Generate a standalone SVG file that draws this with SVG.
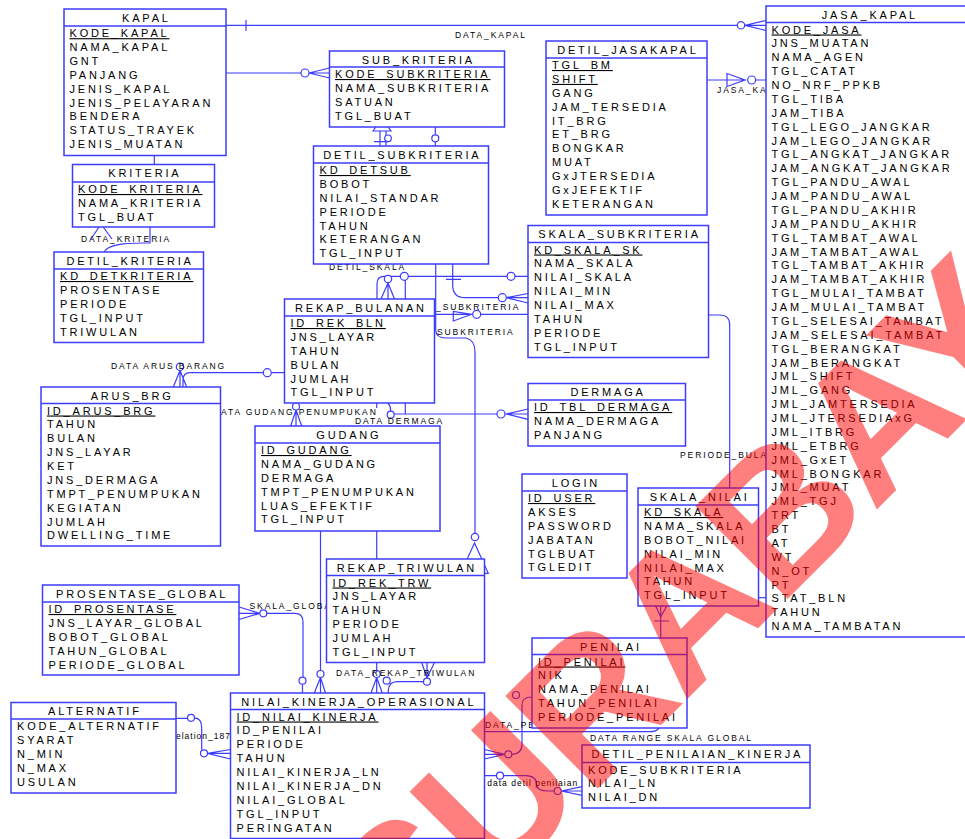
<svg xmlns="http://www.w3.org/2000/svg" width="965" height="839" viewBox="0 0 965 839">
<style>
.box{fill:#fff;stroke:#3c3cff;stroke-width:1.5}
.hl{stroke:#3c3cff;stroke-width:1.5}
.t{font-family:"Liberation Sans",Arial,sans-serif;font-size:11px;letter-spacing:2.8px;fill:#000}
.ttl{text-anchor:middle}
.pk{text-decoration:underline}
.cn{fill:none;stroke:#3c3cff;stroke-width:1.2}
.o{fill:#fff;stroke:#3c3cff;stroke-width:1.2}
.lb{font-family:"Liberation Sans",Arial,sans-serif;font-size:8.5px;letter-spacing:1.9px;fill:#000}
.lw{font-family:"Liberation Sans",Arial,sans-serif;font-size:8.5px;letter-spacing:1px;fill:#000}
.wm{font-family:"Liberation Sans",Arial,sans-serif;font-weight:bold;font-size:190px;letter-spacing:-3px;fill:#ff0000;opacity:0.5}
</style>
<rect width="965" height="839" fill="#fff"/>
<g id="connectors">
<path class="cn" d="M226,25.3H766M246,20V31M745,25.3L766,20.5M745,25.3H766M745,25.3L766,30.5"/>
<circle class="o" cx="741" cy="25.3" r="3.7"/>
<text class="lb" x="455" y="38">DATA_KAPAL</text>
<path class="cn" d="M226,73H329.5M309,73L329.5,68M309,73L329.5,78"/>
<circle class="o" cx="305" cy="73" r="4"/>
<path class="cn" d="M154.3,155.5V164.5"/>
<path class="cn" d="M150,227V243H143C126,243 108,244 104,252M91,239L101,224L112,239"/>
<text class="lb" x="81" y="242">DATA_KRITERIA</text>
<path class="cn" d="M373,131L382,118L391,131ZM380,131V146M386,131V146M374,141.7H388M435.3,127V134.5M435.3,142V146"/>
<circle class="o" cx="388" cy="138.3" r="3.3"/>
<circle class="o" cx="435.3" cy="138.3" r="3.5"/>
<path class="cn" d="M528,276.3H384Q377,276.3 377,284V299M405.3,280V299M388,283L381,299M388,283V299M388,283L394.5,299"/>
<circle class="o" cx="511" cy="276.3" r="4"/>
<circle class="o" cx="404.3" cy="276.3" r="4"/>
<circle class="o" cx="388" cy="279" r="3.7"/>
<text class="lb" x="329" y="269.5">DETIL_SKALA</text>
<path class="cn" d="M452.7,264V285Q452.7,297.7 465,297.7H498.5M446,279.3H461M506,297.7L528,293.5M506,297.7H528M506,297.7L528,303"/>
<circle class="o" cx="502.3" cy="297.7" r="4"/>
<path class="cn" d="M434.5,314.3H528M453.3,311.5V321L471.7,314.3Z"/>
<circle class="o" cx="476.7" cy="314.3" r="4"/>
<text class="lb" x="436" y="309.5">_SUBKRITERIA</text>
<path class="cn" d="M435.7,264V330Q436,338 446,338H466Q475,340 475,352V533M474.5,543L460.7,573.3H488.3Z"/>
<circle class="o" cx="475" cy="537" r="3.7"/>
<text class="lb" x="437" y="335">SUBKRITERIA</text>
<path class="cn" d="M284.5,372.7H271.3M263.3,372.7H190Q183,372.7 183,380V387M180,370.5L173.3,387M180,370.5V387M180,370.5L186.7,387"/>
<circle class="o" cx="267.3" cy="372.7" r="4"/>
<circle class="o" cx="180" cy="366.8" r="3.7"/>
<text class="lb" x="111" y="368.5">DATA ARUS BARANG</text>
<path class="cn" d="M296,410L290.7,426M296,410V426M296,410L301.7,426"/>
<circle class="o" cx="296" cy="406.5" r="3.5"/>
<text class="lb" x="221" y="415">ATA GUDANG PENUMPUKAN</text>
<path class="cn" d="M528,414H394.2M388,403Q390.7,406 390.7,411M405.3,403V414M376.7,403V408M506,414L528,409M506,414H528M506,414L528,419.3"/>
<circle class="o" cx="501" cy="414" r="4"/>
<circle class="o" cx="390.7" cy="414.7" r="3.5"/>
<text class="lb" x="355" y="424">DATA DERMAGA</text>
<path class="cn" d="M376.7,531V559"/>
<path class="cn" d="M320.5,531V670.5M320.5,677.5L314.3,693M320.5,677.5V693M320.5,677.5L325.5,693"/>
<circle class="o" cx="320.5" cy="674" r="3.5"/>
<path class="cn" d="M259.8,613.3L239,607M259.8,613.3H239M259.8,613.3L239,619.5M267,613.3H295Q303,613.3 303,622V677M302.5,684.3V693"/>
<circle class="o" cx="263.3" cy="613.3" r="3.5"/>
<circle class="o" cx="302.5" cy="680.7" r="3.5"/>
<text class="lb" x="249.5" y="609">SKALA_GLOBAL</text>
<path class="cn" d="M376.7,662.5V670.5M376.7,677.5L371,693M376.7,677.5V693M376.7,677.5L382.3,693M427,678L421.7,662.5M427,678V662.5M427,678L434.5,662.5M423.5,681.7H397Q389,682 388.3,690V693"/>
<circle class="o" cx="376.7" cy="674" r="3.5"/>
<circle class="o" cx="427" cy="681.7" r="3.5"/>
<circle class="o" cx="386.7" cy="680.7" r="3.5"/>
<text class="lb" x="336" y="676">DATA_REKAP_TRIWULAN</text>
<path class="cn" d="M175.7,718.3H187.5M194.5,717.8Q201.7,718 201.7,728V749.8M207.5,753.3L230.3,749.5M207.5,753.3H230.3M207.5,753.3L230.3,759"/>
<circle class="o" cx="191" cy="717.8" r="3.5"/>
<circle class="o" cx="204" cy="753.3" r="3.5"/>
<text class="lw" x="176" y="739">elation_187</text>
<path class="cn" d="M504.8,754.3L484.3,749.5M504.8,754.3H484.3M504.8,754.3L484.3,759M511.8,754.3Q522,754 522,744V705Q522,697 531.7,697"/>
<circle class="o" cx="508.3" cy="754.3" r="3.5"/>
<circle class="o" cx="516" cy="695" r="3.5"/>
<text class="lb" x="485" y="728">DATA_PE</text>
<path class="cn" d="M655.7,606L660.7,617L666.7,606M660.7,606V722Q660.7,731.7 650,731.7H484.3M654,621H669"/>
<text class="lb" x="590" y="740.5">DATA RANGE SKALA GLOBAL</text>
<path class="cn" d="M484.3,775.7H496.5M503.5,775.7H526Q536.7,776 536.7,785Q537,791 548,791H554.2M561.2,791L582,786.7M561.2,791H582M561.2,791L582,795.3"/>
<circle class="o" cx="500" cy="775.7" r="3.5"/>
<circle class="o" cx="557.7" cy="791" r="3.5"/>
<text class="lw" x="487.3" y="786">data detil penilaian</text>
<path class="cn" d="M708.5,315H720Q729.7,315 729.7,325V488"/>
<text class="lb" x="680" y="457.5">PERIODE_BULA</text>
<path class="cn" d="M758.5,597.7H766"/>
<path class="cn" d="M707,80H746M755.7,80H766M727,73.5V86.5L745,80Z"/>
<circle class="o" cx="751.7" cy="80" r="4"/>
<text class="lb" x="717" y="93">JASA_KA</text>
</g>

<g id="KAPAL">
<rect class="box" x="64" y="9" width="162" height="146.5"/><line class="hl" x1="64" y1="26" x2="226" y2="26"/>
<text class="t ttl" x="146.4" y="21.5">KAPAL</text>
<text class="t pk" x="69.5" y="37.2">KODE_KAPAL</text>
<text class="t" x="69.5" y="37.2"><tspan x="69.5" dy="13.875">NAMA_KAPAL</tspan><tspan x="69.5" dy="13.875">GNT</tspan><tspan x="69.5" dy="13.875">PANJANG</tspan><tspan x="69.5" dy="13.875">JENIS_KAPAL</tspan><tspan x="69.5" dy="13.875">JENIS_PELAYARAN</tspan><tspan x="69.5" dy="13.875">BENDERA</tspan><tspan x="69.5" dy="13.875">STATUS_TRAYEK</tspan><tspan x="69.5" dy="13.875">JENIS_MUATAN</tspan></text>
</g>

<g id="SUB_KRITERIA">
<rect class="box" x="329.5" y="51" width="175" height="76"/><line class="hl" x1="329.5" y1="67" x2="504.5" y2="67"/>
<text class="t ttl" x="418.4" y="63.5">SUB_KRITERIA</text>
<text class="t pk" x="335" y="78">KODE_SUBKRITERIA</text>
<text class="t" x="335" y="78"><tspan x="335" dy="13.875">NAMA_SUBKRITERIA</tspan><tspan x="335" dy="13.875">SATUAN</tspan><tspan x="335" dy="13.875">TGL_BUAT</tspan></text>
</g>

<g id="DETIL_SUBKRITERIA">
<rect class="box" x="313.5" y="146" width="175" height="118"/><line class="hl" x1="313.5" y1="163" x2="488.5" y2="163"/>
<text class="t ttl" x="402.4" y="158.5">DETIL_SUBKRITERIA</text>
<text class="t pk" x="319.5" y="174">KD_DETSUB</text>
<text class="t" x="319.5" y="174"><tspan x="319.5" dy="13.875">BOBOT</tspan><tspan x="319.5" dy="13.875">NILAI_STANDAR</tspan><tspan x="319.5" dy="13.875">PERIODE</tspan><tspan x="319.5" dy="13.875">TAHUN</tspan><tspan x="319.5" dy="13.875">KETERANGAN</tspan><tspan x="319.5" dy="13.875">TGL_INPUT</tspan></text>
</g>

<g id="DETIL_JASAKAPAL">
<rect class="box" x="546" y="41" width="161" height="174"/><line class="hl" x1="546" y1="58" x2="707" y2="58"/>
<text class="t ttl" x="627.9" y="53.5">DETIL_JASAKAPAL</text>
<text class="t pk" x="552" y="69">TGL_BM</text>
<text class="t pk" x="552" y="82.9">SHIFT</text>
<text class="t" x="552" y="82.9"><tspan x="552" dy="13.875">GANG</tspan><tspan x="552" dy="13.875">JAM_TERSEDIA</tspan><tspan x="552" dy="13.875">IT_BRG</tspan><tspan x="552" dy="13.875">ET_BRG</tspan><tspan x="552" dy="13.875">BONGKAR</tspan><tspan x="552" dy="13.875">MUAT</tspan><tspan x="552" dy="13.875">GxJTERSEDIA</tspan><tspan x="552" dy="13.875">GxJEFEKTIF</tspan><tspan x="552" dy="13.875">KETERANGAN</tspan></text>
</g>

<g id="JASA_KAPAL">
<rect class="box" x="766" y="6" width="205" height="631"/><line class="hl" x1="766" y1="22.5" x2="971" y2="22.5"/>
<text class="t ttl" x="869.9" y="18.5">JASA_KAPAL</text>
<text class="t pk" x="771.5" y="33.5">KODE_JASA</text>
<text class="t" x="771.5" y="33.5"><tspan x="771.5" dy="13.875">JNS_MUATAN</tspan><tspan x="771.5" dy="13.875">NAMA_AGEN</tspan><tspan x="771.5" dy="13.875">TGL_CATAT</tspan><tspan x="771.5" dy="13.875">NO_NRF_PPKB</tspan><tspan x="771.5" dy="13.875">TGL_TIBA</tspan><tspan x="771.5" dy="13.875">JAM_TIBA</tspan><tspan x="771.5" dy="13.875">TGL_LEGO_JANGKAR</tspan><tspan x="771.5" dy="13.875">JAM_LEGO_JANGKAR</tspan><tspan x="771.5" dy="13.875">TGL_ANGKAT_JANGKAR</tspan><tspan x="771.5" dy="13.875">JAM_ANGKAT_JANGKAR</tspan><tspan x="771.5" dy="13.875">TGL_PANDU_AWAL</tspan><tspan x="771.5" dy="13.875">JAM_PANDU_AWAL</tspan><tspan x="771.5" dy="13.875">TGL_PANDU_AKHIR</tspan><tspan x="771.5" dy="13.875">JAM_PANDU_AKHIR</tspan><tspan x="771.5" dy="13.875">TGL_TAMBAT_AWAL</tspan><tspan x="771.5" dy="13.875">JAM_TAMBAT_AWAL</tspan><tspan x="771.5" dy="13.875">TGL_TAMBAT_AKHIR</tspan><tspan x="771.5" dy="13.875">JAM_TAMBAT_AKHIR</tspan><tspan x="771.5" dy="13.875">TGL_MULAI_TAMBAT</tspan><tspan x="771.5" dy="13.875">JAM_MULAI_TAMBAT</tspan><tspan x="771.5" dy="13.875">TGL_SELESAI_TAMBAT</tspan><tspan x="771.5" dy="13.875">JAM_SELESAI_TAMBAT</tspan><tspan x="771.5" dy="13.875">TGL_BERANGKAT</tspan><tspan x="771.5" dy="13.875">JAM_BERANGKAT</tspan><tspan x="771.5" dy="13.875">JML_SHIFT</tspan><tspan x="771.5" dy="13.875">JML_GANG</tspan><tspan x="771.5" dy="13.875">JML_JAMTERSEDIA</tspan><tspan x="771.5" dy="13.875">JML_JTERSEDIAxG</tspan><tspan x="771.5" dy="13.875">JML_ITBRG</tspan><tspan x="771.5" dy="13.875">JML_ETBRG</tspan><tspan x="771.5" dy="13.875">JML_GxET</tspan><tspan x="771.5" dy="13.875">JML_BONGKAR</tspan><tspan x="771.5" dy="13.875">JML_MUAT</tspan><tspan x="771.5" dy="13.875">JML_TGJ</tspan><tspan x="771.5" dy="13.875">TRT</tspan><tspan x="771.5" dy="13.875">BT</tspan><tspan x="771.5" dy="13.875">AT</tspan><tspan x="771.5" dy="13.875">WT</tspan><tspan x="771.5" dy="13.875">N_OT</tspan><tspan x="771.5" dy="13.875">PT</tspan><tspan x="771.5" dy="13.875">STAT_BLN</tspan><tspan x="771.5" dy="13.875">TAHUN</tspan><tspan x="771.5" dy="13.875">NAMA_TAMBATAN</tspan></text>
</g>

<g id="KRITERIA">
<rect class="box" x="72.5" y="164.5" width="142" height="62.5"/><line class="hl" x1="72.5" y1="182" x2="214.5" y2="182"/>
<text class="t ttl" x="144.9" y="177">KRITERIA</text>
<text class="t pk" x="78" y="193">KODE_KRITERIA</text>
<text class="t" x="78" y="193"><tspan x="78" dy="13.875">NAMA_KRITERIA</tspan><tspan x="78" dy="13.875">TGL_BUAT</tspan></text>
</g>

<g id="DETIL_KRITERIA">
<rect class="box" x="54" y="252" width="149.5" height="90.5"/><line class="hl" x1="54" y1="269" x2="203.5" y2="269"/>
<text class="t ttl" x="130.1" y="264.5">DETIL_KRITERIA</text>
<text class="t pk" x="60" y="280">KD_DETKRITERIA</text>
<text class="t" x="60" y="280"><tspan x="60" dy="13.875">PROSENTASE</tspan><tspan x="60" dy="13.875">PERIODE</tspan><tspan x="60" dy="13.875">TGL_INPUT</tspan><tspan x="60" dy="13.875">TRIWULAN</tspan></text>
</g>

<g id="REKAP_BULANAN">
<rect class="box" x="284.5" y="299" width="150" height="104"/><line class="hl" x1="284.5" y1="316" x2="434.5" y2="316"/>
<text class="t ttl" x="360.9" y="311.5">REKAP_BULANAN</text>
<text class="t pk" x="290.5" y="327">ID_REK_BLN</text>
<text class="t" x="290.5" y="327"><tspan x="290.5" dy="13.875">JNS_LAYAR</tspan><tspan x="290.5" dy="13.875">TAHUN</tspan><tspan x="290.5" dy="13.875">BULAN</tspan><tspan x="290.5" dy="13.875">JUMLAH</tspan><tspan x="290.5" dy="13.875">TGL_INPUT</tspan></text>
</g>

<g id="SKALA_SUBKRITERIA">
<rect class="box" x="528" y="225.5" width="180.5" height="132"/><line class="hl" x1="528" y1="242.5" x2="708.5" y2="242.5"/>
<text class="t ttl" x="619.6" y="238">SKALA_SUBKRITERIA</text>
<text class="t pk" x="534" y="253.5">KD_SKALA_SK</text>
<text class="t" x="534" y="253.5"><tspan x="534" dy="13.875">NAMA_SKALA</tspan><tspan x="534" dy="13.875">NILAI_SKALA</tspan><tspan x="534" dy="13.875">NILAI_MIN</tspan><tspan x="534" dy="13.875">NILAI_MAX</tspan><tspan x="534" dy="13.875">TAHUN</tspan><tspan x="534" dy="13.875">PERIODE</tspan><tspan x="534" dy="13.875">TGL_INPUT</tspan></text>
</g>

<g id="DERMAGA">
<rect class="box" x="528" y="383.5" width="157.5" height="62.5"/><line class="hl" x1="528" y1="400" x2="685.5" y2="400"/>
<text class="t ttl" x="608.1" y="396">DERMAGA</text>
<text class="t pk" x="534" y="411">ID_TBL_DERMAGA</text>
<text class="t" x="534" y="411"><tspan x="534" dy="13.875">NAMA_DERMAGA</tspan><tspan x="534" dy="13.875">PANJANG</tspan></text>
</g>

<g id="ARUS_BRG">
<rect class="box" x="41" y="387" width="179.5" height="159"/><line class="hl" x1="41" y1="403.5" x2="220.5" y2="403.5"/>
<text class="t ttl" x="132.1" y="399.5">ARUS_BRG</text>
<text class="t pk" x="47" y="414.5">ID_ARUS_BRG</text>
<text class="t" x="47" y="414.5"><tspan x="47" dy="13.875">TAHUN</tspan><tspan x="47" dy="13.875">BULAN</tspan><tspan x="47" dy="13.875">JNS_LAYAR</tspan><tspan x="47" dy="13.875">KET</tspan><tspan x="47" dy="13.875">JNS_DERMAGA</tspan><tspan x="47" dy="13.875">TMPT_PENUMPUKAN</tspan><tspan x="47" dy="13.875">KEGIATAN</tspan><tspan x="47" dy="13.875">JUMLAH</tspan><tspan x="47" dy="13.875">DWELLING_TIME</tspan></text>
</g>

<g id="GUDANG">
<rect class="box" x="255" y="426" width="185" height="105"/><line class="hl" x1="255" y1="443" x2="440" y2="443"/>
<text class="t ttl" x="348.9" y="438.5">GUDANG</text>
<text class="t pk" x="261" y="454">ID_GUDANG</text>
<text class="t" x="261" y="454"><tspan x="261" dy="13.875">NAMA_GUDANG</tspan><tspan x="261" dy="13.875">DERMAGA</tspan><tspan x="261" dy="13.875">TMPT_PENUMPUKAN</tspan><tspan x="261" dy="13.875">LUAS_EFEKTIF</tspan><tspan x="261" dy="13.875">TGL_INPUT</tspan></text>
</g>

<g id="LOGIN">
<rect class="box" x="522" y="474" width="105" height="104"/><line class="hl" x1="522" y1="491" x2="627" y2="491"/>
<text class="t ttl" x="575.9" y="486.5">LOGIN</text>
<text class="t pk" x="528" y="502">ID_USER</text>
<text class="t" x="528" y="502"><tspan x="528" dy="13.875">AKSES</tspan><tspan x="528" dy="13.875">PASSWORD</tspan><tspan x="528" dy="13.875">JABATAN</tspan><tspan x="528" dy="13.875">TGLBUAT</tspan><tspan x="528" dy="13.875">TGLEDIT</tspan></text>
</g>

<g id="SKALA_NILAI">
<rect class="box" x="638" y="488" width="120.5" height="118"/><line class="hl" x1="638" y1="505" x2="758.5" y2="505"/>
<text class="t ttl" x="699.6" y="500.5">SKALA_NILAI</text>
<text class="t pk" x="644" y="516">KD_SKALA</text>
<text class="t" x="644" y="516"><tspan x="644" dy="13.875">NAMA_SKALA</tspan><tspan x="644" dy="13.875">BOBOT_NILAI</tspan><tspan x="644" dy="13.875">NILAI_MIN</tspan><tspan x="644" dy="13.875">NILAI_MAX</tspan><tspan x="644" dy="13.875">TAHUN</tspan><tspan x="644" dy="13.875">TGL_INPUT</tspan></text>
</g>

<g id="REKAP_TRIWULAN">
<rect class="box" x="326.5" y="559" width="158" height="103.5"/><line class="hl" x1="326.5" y1="575.5" x2="484.5" y2="575.5"/>
<text class="t ttl" x="406.9" y="571.5">REKAP_TRIWULAN</text>
<text class="t pk" x="332.5" y="586.5">ID_REK_TRW</text>
<text class="t" x="332.5" y="586.5"><tspan x="332.5" dy="13.875">JNS_LAYAR</tspan><tspan x="332.5" dy="13.875">TAHUN</tspan><tspan x="332.5" dy="13.875">PERIODE</tspan><tspan x="332.5" dy="13.875">JUMLAH</tspan><tspan x="332.5" dy="13.875">TGL_INPUT</tspan></text>
</g>

<g id="PROSENTASE_GLOBAL">
<rect class="box" x="42.5" y="585" width="196.5" height="90"/><line class="hl" x1="42.5" y1="602" x2="239" y2="602"/>
<text class="t ttl" x="142.1" y="597.5">PROSENTASE_GLOBAL</text>
<text class="t pk" x="48.5" y="613">ID_PROSENTASE</text>
<text class="t" x="48.5" y="613"><tspan x="48.5" dy="13.875">JNS_LAYAR_GLOBAL</tspan><tspan x="48.5" dy="13.875">BOBOT_GLOBAL</tspan><tspan x="48.5" dy="13.875">TAHUN_GLOBAL</tspan><tspan x="48.5" dy="13.875">PERIODE_GLOBAL</tspan></text>
</g>

<g id="ALTERNATIF">
<rect class="box" x="11" y="702.5" width="165" height="90.5"/><line class="hl" x1="11" y1="719" x2="176" y2="719"/>
<text class="t ttl" x="94.9" y="715">ALTERNATIF</text>
<text class="t" x="17" y="730">KODE_ALTERNATIF<tspan x="17" dy="13.875">SYARAT</tspan><tspan x="17" dy="13.875">N_MIN</tspan><tspan x="17" dy="13.875">N_MAX</tspan><tspan x="17" dy="13.875">USULAN</tspan></text>
</g>

<g id="NILAI_KINERJA_OPERASIONAL">
<rect class="box" x="230.5" y="693" width="254" height="145.5"/><line class="hl" x1="230.5" y1="709.5" x2="484.5" y2="709.5"/>
<text class="t ttl" x="358.9" y="705.5">NILAI_KINERJA_OPERASIONAL</text>
<text class="t pk" x="236.5" y="720.5">ID_NILAI_KINERJA</text>
<text class="t" x="236.5" y="720.5"><tspan x="236.5" dy="13.875">ID_PENILAI</tspan><tspan x="236.5" dy="13.875">PERIODE</tspan><tspan x="236.5" dy="13.875">TAHUN</tspan><tspan x="236.5" dy="13.875">NILAI_KINERJA_LN</tspan><tspan x="236.5" dy="13.875">NILAI_KINERJA_DN</tspan><tspan x="236.5" dy="13.875">NILAI_GLOBAL</tspan><tspan x="236.5" dy="13.875">TGL_INPUT</tspan><tspan x="236.5" dy="13.875">PERINGATAN</tspan></text>
</g>

<g id="PENILAI">
<rect class="box" x="532" y="638" width="155" height="90"/><line class="hl" x1="532" y1="654.5" x2="687" y2="654.5"/>
<text class="t ttl" x="610.9" y="650.5">PENILAI</text>
<text class="t pk" x="538" y="665.5">ID_PENILAI</text>
<text class="t" x="538" y="665.5"><tspan x="538" dy="13.875">NIK</tspan><tspan x="538" dy="13.875">NAMA_PENILAI</tspan><tspan x="538" dy="13.875">TAHUN_PENILAI</tspan><tspan x="538" dy="13.875">PERIODE_PENILAI</tspan></text>
</g>

<g id="DETIL_PENILAIAN_KINERJA">
<rect class="box" x="582" y="745" width="228" height="63"/><line class="hl" x1="582" y1="762.5" x2="810" y2="762.5"/>
<text class="t ttl" x="697.4" y="758">DETIL_PENILAIAN_KINERJA</text>
<text class="t" x="588" y="773.5">KODE_SUBKRITERIA<tspan x="588" dy="13.875">NILAI_LN</tspan><tspan x="588" dy="13.875">NILAI_DN</tspan></text>
</g>

<g id="watermark">
<text class="wm" transform="translate(493.9 892.4) rotate(-45)" x="-123.7" y="0">SURABAYA</text>
</g>
</svg>
